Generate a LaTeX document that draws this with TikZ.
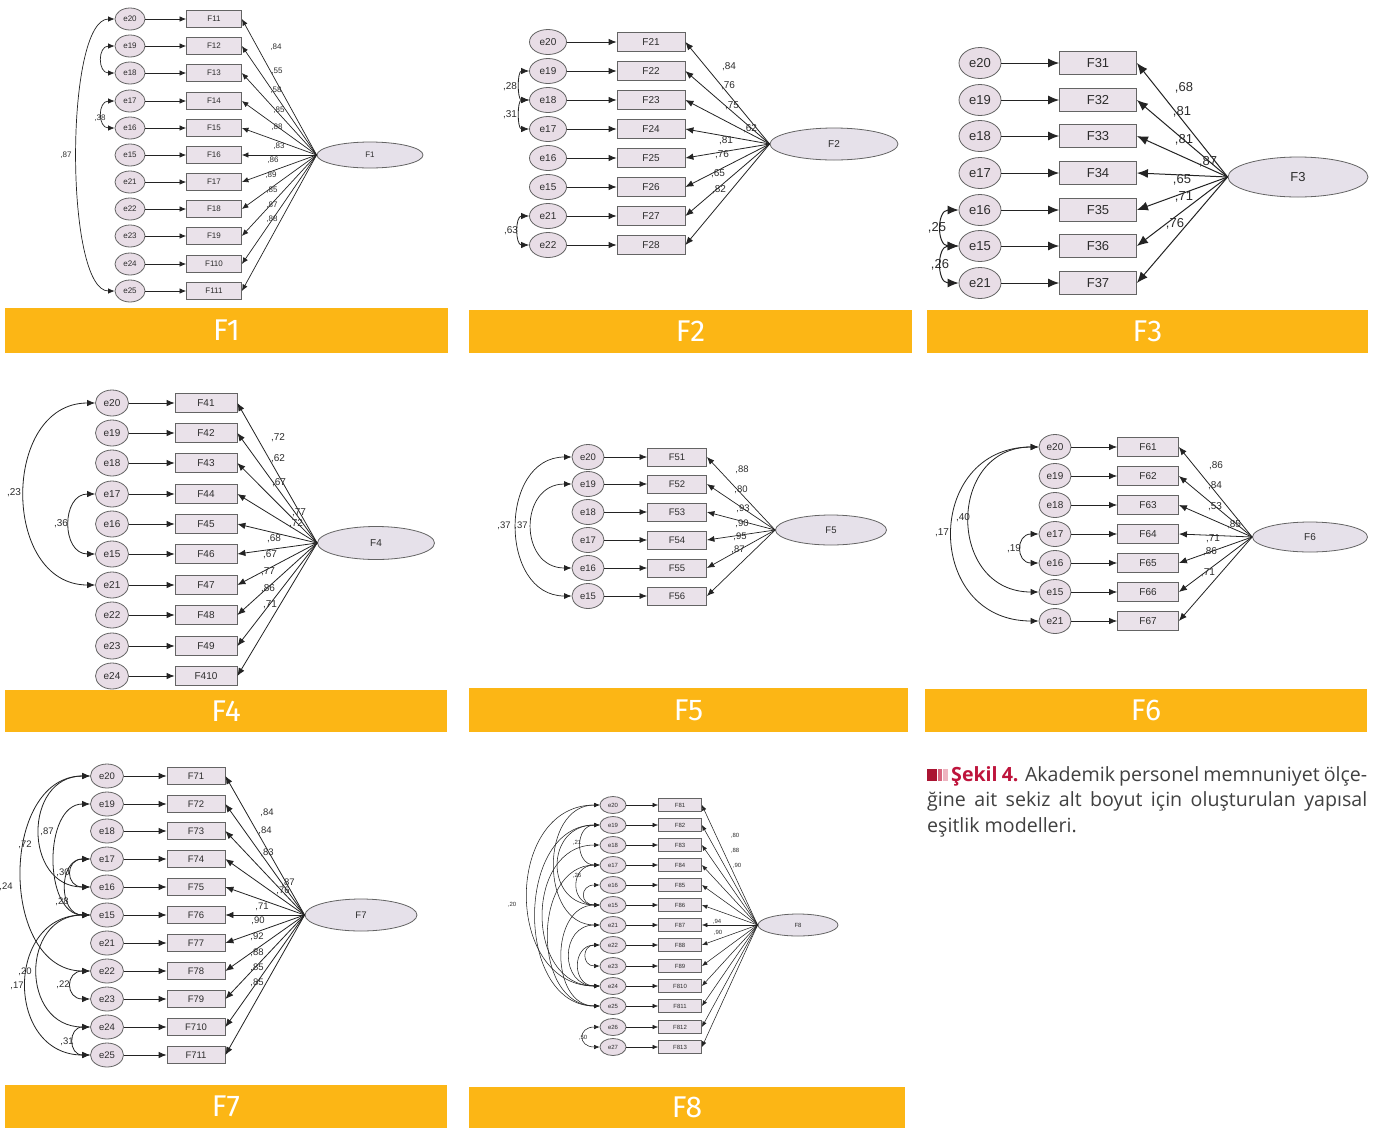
\documentclass[tikz,border=0pt]{standalone}
\usepackage{fontspec}
\setmainfont{Liberation Sans}
\newfontfamily\capfont{Open Sans}
\newfontfamily\barfont{Fira Sans}
\usetikzlibrary{shapes.geometric,arrows.meta}
\definecolor{errc}{RGB}{232,221,230}
\definecolor{indc}{RGB}{234,226,234}
\definecolor{latc}{RGB}{230,225,234}
\definecolor{edgec}{RGB}{100,100,100}
\definecolor{linec}{RGB}{35,35,35}
\definecolor{txtc}{RGB}{45,45,45}
\definecolor{barc}{RGB}{252,182,21}
\definecolor{captxt}{RGB}{64,64,64}
\definecolor{capred}{RGB}{190,20,60}
\definecolor{ic1}{RGB}{170,20,50}
\definecolor{ic2}{RGB}{215,100,125}
\definecolor{ic3}{RGB}{238,180,192}
\tikzset{
  errbase/.style={ellipse, draw=edgec, fill=errc, inner sep=0pt, text=txtc, line width=0.8pt},
  indbase/.style={rectangle, draw=edgec, fill=indc, inner sep=0pt, text=txtc, line width=0.8pt},
  latbase/.style={ellipse, draw=edgec, fill=latc, inner sep=0pt, text=txtc, line width=0.8pt},
  bar/.style={rectangle, fill=barc, inner sep=0pt, text=white, font=\barfont\fontsize{30}{30}\selectfont},
}
\newcommand\setpanel[8]{\tikzset{
  err/.style={errbase, minimum width=#1, minimum height=#2, font=\fontsize{#5}{#5}\selectfont},
  ind/.style={indbase, minimum width=#3, minimum height=#4, font=\fontsize{#5}{#5}\selectfont},
  lat/.style={latbase, font=\fontsize{#5}{#5}\selectfont},
  one/.style={draw=linec, line width=#7, -{Latex[length=#6, width=#8]}},
  two/.style={draw=linec, line width=#7, {Latex[length=#6, width=#8]}-{Latex[length=#6, width=#8]}},
  ld/.style={font=\fontsize{#5}{#5}\selectfont, text=txtc, inner sep=0pt},
}}
\newcommand\semrows[4]{%
  \foreach \yy/\ee/\ff [count=\ii] in {#4} {
    \node[err] (#1e\ii) at (#2,\yy) {\ee};
    \node[ind] (#1f\ii) at (#3,\yy) {\ff};
    \draw[one] (#1e\ii) -- (#1f\ii);
  }}
\newcommand\semload[3]{\foreach \ii in {1,...,#2} {\draw[one] (#3.west) -- (#1f\ii.east);}}
\newcommand\corr[3]{\draw[two] (#1.west) .. controls +(#3,0) and +(#3,0) .. (#2.west);}
\newcommand\labs[2]{\foreach \xx/\yy/\lab [count=\kk] in {#2} {\node[ld] (#1l\kk) at (\xx,\yy) {\lab};}}
\begin{document}
\begin{tikzpicture}[x=1pt,y=-1pt]
\useasboundingbox (0,0) rectangle (1374,1128);
\fill[white] (0,0) rectangle (1374,1128);

% ---------------- F1
\begin{scope}
\setpanel{30}{22}{55}{17}{8}{6.5pt}{0.7pt}{5.5pt}
\semrows{p1}{130}{214}{19/e20/F11,46/e19/F12,73/e18/F13,101/e17/F14,128/e16/F15,155/e15/F16,182/e21/F17,209/e22/F18,236/e23/F19,264/e24/F110,291/e25/F111}
\node[lat, minimum width=106, minimum height=26] (p1L) at (370,155) {F1};
\semload{p1}{11}{p1L}
\corr{p1e1}{p1e11}{-50}
\corr{p1e2}{p1e3}{-17}
\corr{p1e4}{p1e5}{-17}
\labs{p1}{276/47/{,84},277/71/{,55},276/90/{,58},279/110/{,85},277/127/{,88},279/146/{,83},273/160/{,86},271/175/{,89},272/190/{,85},272/205/{,87},272/219/{,88},66/155/{,87},100/118/{,38}}
\node[bar, minimum width=443, minimum height=45] (p1bar) at (226.5,330.5) {F1};
\end{scope}

% ---------------- F2
\begin{scope}
\setpanel{37}{25}{68}{19}{10}{8pt}{0.8pt}{6.5pt}
\semrows{p2}{548}{651}{42/e20/F21,71/e19/F22,100/e18/F23,129/e17/F24,158/e16/F25,187/e15/F26,216/e21/F27,245/e22/F28}
\node[lat, minimum width=128, minimum height=32] (p2L) at (834,144) {F2};
\semload{p2}{8}{p2L}
\corr{p2e2}{p2e3}{-12}
\corr{p2e3}{p2e4}{-12}
\corr{p2e7}{p2e8}{-14}
\labs{p2}{729/67/{,84},728/86/{,76},732/106/{,75},750/129/{,62},726/141/{,81},722/155/{,76},718/174/{,65},719/190/{,82},510/87/{,28},510/115/{,31},511/231/{,63}}
\node[bar, minimum width=443, minimum height=43] (p2bar) at (690.5,331.5) {F2};
\end{scope}

% ---------------- F3
\begin{scope}
\setpanel{42}{31}{77}{23}{13}{11pt}{1pt}{9pt}
\semrows{p3}{980}{1098}{63/e20/F31,100/e19/F32,136/e18/F33,173/e17/F34,210/e16/F35,246/e15/F36,283/e21/F37}
\node[lat, minimum width=140, minimum height=40] (p3L) at (1298,177) {F3};
\semload{p3}{7}{p3L}
\corr{p3e5}{p3e6}{-22}
\corr{p3e6}{p3e7}{-22}
\labs{p3}{1184/88/{,68},1182/112/{,81},1184/140/{,81},1208/162/{,87},1182/180/{,65},1184/197/{,71},1175/224/{,76},937/228/{,25},940/265/{,26}}
\node[bar, minimum width=441, minimum height=43] (p3bar) at (1147.5,331.5) {F3};
\end{scope}

% ---------------- F4
\begin{scope}
\setpanel{33}{26}{62}{19}{10}{8pt}{0.8pt}{6.5pt}
\semrows{p4}{112}{206}{403/e20/F41,433/e19/F42,463/e18/F43,494/e17/F44,524/e16/F45,554/e15/F46,585/e21/F47,615/e22/F48,646/e23/F49,676/e24/F410}
\node[lat, minimum width=117, minimum height=33] (p4L) at (376,543) {F4};
\semload{p4}{10}{p4L}
\corr{p4e1}{p4e7}{-94}
\corr{p4e4}{p4e6}{-34}
\labs{p4}{278/438/{,72},278/459/{,62},279/483/{,67},299/513/{,77},296/524/{,72},274/539/{,68},270/555/{,67},268/572/{,77},268/589/{,86},270/605/{,71},14/493/{,23},61/524/{,36}}
\node[bar, minimum width=442, minimum height=42] (p4bar) at (226,711) {F4};
\end{scope}

% ---------------- F5
\begin{scope}
\setpanel{32}{25}{59}{18}{9.5}{7.5pt}{0.7pt}{6pt}
\semrows{p5}{588}{677}{457/e20/F51,484/e19/F52,512/e18/F53,540/e17/F54,568/e16/F55,596/e15/F56}
\node[lat, minimum width=111, minimum height=30] (p5L) at (831,530) {F5};
\semload{p5}{6}{p5L}
\corr{p5e1}{p5e6}{-73}
\corr{p5e2}{p5e5}{-53}
\labs{p5}{742/470/{,88},741/490/{,80},743/509/{,93},742/524/{,90},740/537/{,95},738/550/{,87},504/526/{,37},521/526/{,37}}
\node[bar, minimum width=439, minimum height=44] (p5bar) at (688.5,710) {F5};
\end{scope}

% ---------------- F6
\begin{scope}
\setpanel{32}{25}{61}{19}{10}{8pt}{0.8pt}{6.5pt}
\semrows{p6}{1055}{1148}{447/e20/F61,476/e19/F62,505/e18/F63,534/e17/F64,563/e16/F65,592/e15/F66,621/e21/F67}
\node[lat, minimum width=115, minimum height=30] (p6L) at (1310,537) {F6};
\semload{p6}{7}{p6L}
\corr{p6e1}{p6e7}{-115}
\corr{p6e1}{p6e6}{-92}
\corr{p6e4}{p6e5}{-23}
\labs{p6}{1216/466/{,86},1215/486/{,84},1215/507/{,53},1234/525/{,85},1213/539/{,71},1210/552/{,86},1208/573/{,71},942/533/{,17},963/518/{,40},1014/549/{,19}}
\node[bar, minimum width=442, minimum height=43] (p6bar) at (1146,710.5) {F6};
\end{scope}

% ---------------- F7
\begin{scope}
\setpanel{33}{24}{58}{17}{9.5}{8pt}{0.8pt}{6.5pt}
\semrows{p7}{107}{196}{776/e20/F71,804/e19/F72,831/e18/F73,859/e17/F74,887/e16/F75,915/e15/F76,943/e21/F77,971/e22/F78,999/e23/F79,1027/e24/F710,1055/e25/F711}
\node[lat, minimum width=112, minimum height=32] (p7L) at (361,915) {F7};
\semload{p7}{11}{p7L}
\corr{p7e1}{p7e8}{-91}
\corr{p7e1}{p7e5}{-67}
\corr{p7e2}{p7e6}{-47}
\corr{p7e4}{p7e5}{-25}
\corr{p7e4}{p7e6}{-32}
\corr{p7e6}{p7e11}{-85}
\corr{p7e6}{p7e10}{-70}
\corr{p7e8}{p7e9}{-25}
\corr{p7e10}{p7e11}{-22}
\labs{p7}{267/813/{,84},265/831/{,84},267/853/{,83},288/883/{,87},283/891/{,76},262/907/{,71},258/921/{,90},257/937/{,92},257/953/{,88},257/968/{,85},257/983/{,85},25/845/{,72},47/832/{,87},6/887/{,24},63/873/{,30},62/902/{,28},25/972/{,20},17/986/{,17},63/985/{,22},67/1042/{,31}}
\node[bar, minimum width=442, minimum height=43] (p7bar) at (226,1106.5) {F7};
\end{scope}

% ---------------- F8
\begin{scope}
\setpanel{26}{17}{43}{13}{6}{5.5pt}{0.55pt}{4.5pt}
\semrows{p8}{613}{680}{805/e20/F81,825/e19/F82,845/e18/F83,865/e17/F84,885/e16/F85,905/e15/F86,925/e21/F87,945/e22/F88,966/e23/F89,986/e24/F810,1006/e25/F811,1027/e26/F812,1047/e27/F813}
\node[lat, minimum width=80, minimum height=22] (p8L) at (798,925) {F8};
\semload{p8}{13}{p8L}
\corr{p8e1}{p8e10}{-96}
\corr{p8e2}{p8e11}{-85}
\corr{p8e3}{p8e10}{-75}
\corr{p8e4}{p8e11}{-68}
\corr{p8e1}{p8e7}{-60}
\corr{p8e2}{p8e6}{-55}
\corr{p8e6}{p8e11}{-50}
\corr{p8e7}{p8e10}{-40}
\corr{p8e4}{p8e6}{-30}
\corr{p8e8}{p8e10}{-28}
\corr{p8e2}{p8e4}{-25}
\corr{p8e5}{p8e6}{-20}
\corr{p8e8}{p8e9}{-18}
\corr{p8e12}{p8e13}{-22}
\labs{p8}{735/836/{,80},735/851/{,88},737/866/{,90},717/922/{,94},718/933/{,90},512/905/{,20},577/843/{,21},577/876/{,26},583/1038/{,50}}
\node[bar, minimum width=436, minimum height=41] (p8bar) at (687,1107.5) {F8};
\end{scope}

% ---------------- caption
\node[anchor=north west, text width=440pt, align=justify, inner sep=0pt, font=\capfont\fontsize{19.6}{25.5}\selectfont, text=captxt] (cap) at (927,766) {\textcolor{ic1}{\rule{10pt}{12pt}}\kern1pt\textcolor{ic2}{\rule{4pt}{12pt}}\kern1pt\textcolor{ic3}{\rule{5pt}{12pt}}\kern3pt\textcolor{capred}{\bfseries Şekil 4.} Akademik personel memnuniyet ölçe-\linebreak ğine ait sekiz alt boyut için oluşturulan yapısal\linebreak eşitlik modelleri.};
\end{tikzpicture}
\end{document}
